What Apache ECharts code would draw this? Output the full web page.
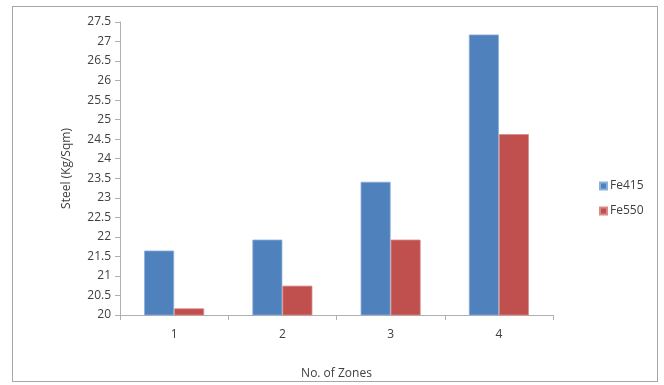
<!DOCTYPE html>
<html>
<head>
<meta charset="utf-8">
<script src="https://cdn.jsdelivr.net/npm/echarts@6/dist/echarts.min.js"></script>
<style>
  html, body { margin: 0; padding: 0; background: #fff; }
  #frame { position: absolute; left: 12px; top: 6px; width: 646px; height: 376px; border: 1px solid #a6a6a6; box-sizing: border-box; }
  #chart { width: 664px; height: 385px; position: absolute; left: 0; top: 0; }
</style>
</head>
<body>
<div id="frame"></div>
<div id="chart"></div>
<script>
// Steel quantity per number of zones
const zones = ['1', '2', '3', '4'];
const fe415 = [21.65, 21.93, 23.41, 27.18];
const fe550 = [20.17, 20.75, 21.93, 24.63];
const seriesNames = ['Fe415', 'Fe550'];

const font = 'Open Sans';
const textColor = '#404040';

const chart = echarts.init(document.getElementById('chart'), null, { renderer: 'canvas' });
chart.setOption({
  animation: false,
  backgroundColor: 'transparent',
  grid: { left: 120, right: 111, top: 22, bottom: 68 },
  legend: {
    orient: 'vertical',
    left: 594,
    top: 175,
    itemWidth: 7,
    itemHeight: 7,
    itemGap: 13,
    icon: 'rect',
    textStyle: { fontFamily: font, fontSize: 12, color: textColor, padding: [0, 0, 0, -2] },
    data: seriesNames
  },
  xAxis: {
    type: 'category',
    data: zones,
    name: 'No. of Zones',
    nameLocation: 'middle',
    nameGap: 53,
    nameTextStyle: { fontFamily: font, fontSize: 12, color: textColor },
    axisLine: { lineStyle: { color: '#b0b0b0', width: 1 } },
    axisTick: { show: true, length: 5, alignWithLabel: false, lineStyle: { color: '#b0b0b0' } },
    axisLabel: { fontFamily: font, fontSize: 12, color: textColor, margin: 14 }
  },
  yAxis: {
    type: 'value',
    min: 20,
    max: 27.5,
    interval: 0.5,
    name: 'Steel (Kg/Sqm)',
    nameLocation: 'middle',
    nameGap: 47,
    nameRotate: 90,
    nameTextStyle: { fontFamily: font, fontSize: 12, color: textColor },
    axisLine: { show: true, lineStyle: { color: '#b0b0b0', width: 1 } },
    axisTick: { show: true, length: 5, lineStyle: { color: '#b0b0b0' } },
    splitLine: { show: false },
    axisLabel: { fontFamily: font, fontSize: 12, color: textColor, margin: 9 }
  },
  series: [
    {
      name: seriesNames[0],
      type: 'bar',
      data: fe415,
      barWidth: 30,
      barGap: '0%',
      itemStyle: { color: '#4F81BD', borderColor: '#8cb0dc', borderWidth: 0.8 }
    },
    {
      name: seriesNames[1],
      type: 'bar',
      data: fe550,
      barWidth: 30,
      barGap: '0%',
      itemStyle: { color: '#C0504D', borderColor: '#d88a88', borderWidth: 0.8 }
    }
  ]
});
</script>
</body>
</html>
